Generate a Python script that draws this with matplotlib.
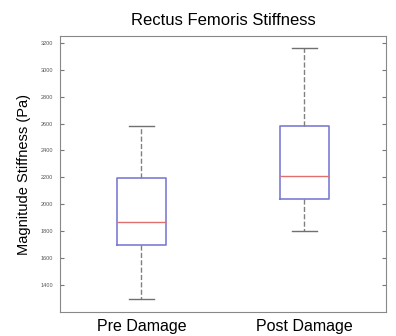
import matplotlib
matplotlib.use('Agg')
import matplotlib.pyplot as plt

plt.rcParams['font.family'] = ['Liberation Sans', 'DejaVu Sans']

# box statistics (Pa)
groups = ['Pre Damage', 'Post Damage']
whisker_low = [1300, 1800]
q1 = [1695, 2040]
medians = [1868, 2212]
q3 = [2192, 2585]
whisker_high = [2580, 3158]

stats = []
for i in range(len(groups)):
    stats.append({'label': groups[i], 'whislo': whisker_low[i], 'q1': q1[i],
                  'med': medians[i], 'q3': q3[i], 'whishi': whisker_high[i], 'fliers': []})

fig = plt.figure(figsize=(3.96, 3.36), dpi=100)
ax = fig.add_axes([0.1515, 0.071, 0.823, 0.822])

ax.bxp(stats, positions=[1, 2], widths=0.3, showfliers=False,
       boxprops=dict(color='#7b7bd6', linewidth=1.2),
       medianprops=dict(color='#e07070', linewidth=1.0),
       whiskerprops=dict(color='#808080', linestyle='--', linewidth=1.0),
       capprops=dict(color='#707070', linewidth=1.0))

ax.set_xlim(0.5, 2.5)
ax.set_ylim(1200, 3250)
ax.set_yticks(range(1400, 3201, 200))
ax.tick_params(axis='y', direction='in', length=3, labelsize=4, colors='#777777',
               right=True, labelcolor='#555555', pad=5)
ax.tick_params(axis='x', length=0, labelsize=11.5, pad=5)
for s in ax.spines.values():
    s.set_color('#888888')

ax.set_ylabel('Magnitude Stiffness (Pa)', fontsize=10.5, labelpad=7)
ax.set_title('Rectus Femoris Stiffness', fontsize=12, pad=8)

fig.savefig('out.png', dpi=100)
